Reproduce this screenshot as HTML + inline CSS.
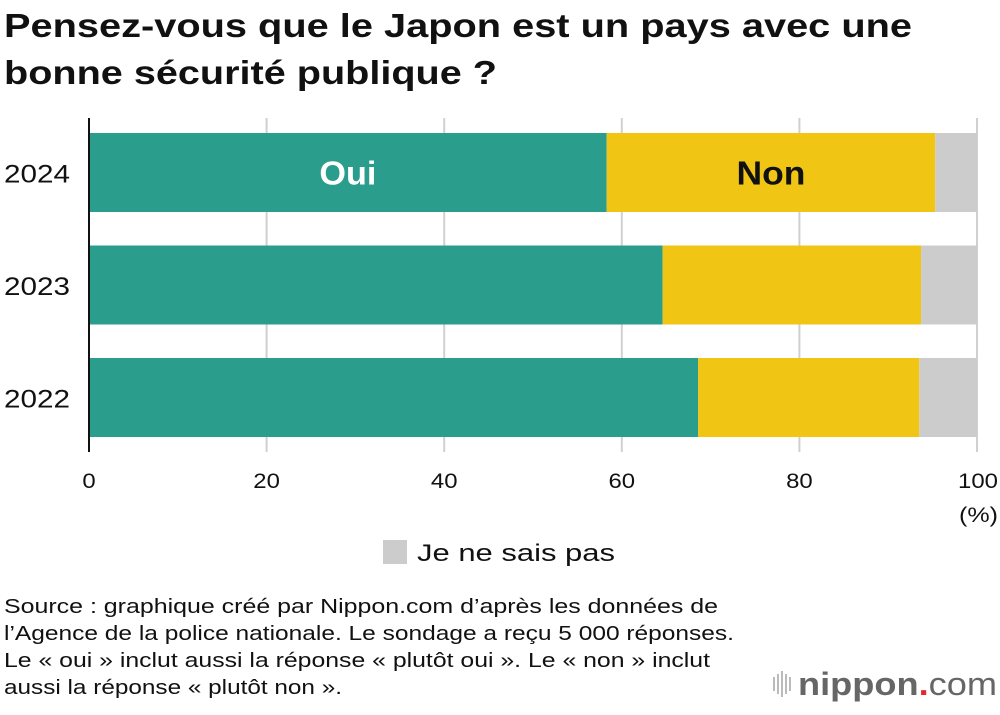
<!DOCTYPE html>
<html><head><meta charset="utf-8"><style>
body{margin:0;width:1000px;height:710px;background:#fff;font-family:"Liberation Sans",sans-serif;overflow:hidden}
</style></head><body>
<svg width="1000" height="710" xmlns="http://www.w3.org/2000/svg">
<text x="4" y="37" font-size="33" font-weight="bold" fill="#111" textLength="908" lengthAdjust="spacingAndGlyphs">Pensez-vous que le Japon est un pays avec une</text>
<text x="4" y="84" font-size="33" font-weight="bold" fill="#111" textLength="493" lengthAdjust="spacingAndGlyphs">bonne sécurité publique ?</text>
<g id="grid"></g>
<g id="bars"></g>
<line x1="89" y1="118" x2="89" y2="452" stroke="#111" stroke-width="2"/>
<g id="ticks"></g>
<text x="959" y="522" font-size="21" fill="#111" textLength="39" lengthAdjust="spacingAndGlyphs">(%)</text>
<rect x="383" y="540" width="24" height="24" fill="#cccccc"/>
<text x="417" y="561" font-size="24" fill="#111" textLength="198" lengthAdjust="spacingAndGlyphs">Je ne sais pas</text>
<g font-size="20" fill="#111">
<text x="4" y="613" textLength="714" lengthAdjust="spacingAndGlyphs">Source : graphique créé par Nippon.com d’après les données de</text>
<text x="4" y="640" textLength="730" lengthAdjust="spacingAndGlyphs">l’Agence de la police nationale. Le sondage a reçu 5 000 réponses.</text>
<text x="4" y="667" textLength="706" lengthAdjust="spacingAndGlyphs">Le « oui » inclut aussi la réponse « plutôt oui ». Le « non » inclut</text>
<text x="4" y="694" textLength="338" lengthAdjust="spacingAndGlyphs">aussi la réponse « plutôt non ».</text>
</g>
<g>
<g fill="#bbb"><rect x="773" y="677" width="2" height="14"/><rect x="777" y="674" width="2" height="20"/><rect x="781" y="671" width="2" height="26"/><rect x="785" y="674" width="2" height="20"/><rect x="789" y="677" width="2" height="14"/></g>
<text x="798" y="695" font-size="32" fill="#666" font-weight="bold" textLength="199" lengthAdjust="spacingAndGlyphs">nippon<tspan fill="#e8262a">.</tspan><tspan font-weight="normal">com</tspan></text>
</g>
</svg>
<script>
const categories=["2024","2023","2022"];
const oui=[58.3,64.6,68.6];
const non=[37.0,29.1,24.9];
const dontKnow=[4.7,6.3,6.5];
const ticks=[0,20,40,60,80,100];
const NS="http://www.w3.org/2000/svg";
const x=v=>89+v*8.88;
const yTop=i=>133+i*112.5, bh=79;
function mk(tag,attrs,parent){const e=document.createElementNS(NS,tag);for(const k in attrs)e.setAttribute(k,attrs[k]);parent.appendChild(e);return e;}
const grid=document.getElementById('grid'),bars=document.getElementById('bars'),tk=document.getElementById('ticks');
ticks.forEach(t=>{
 if(t>0){const l=mk('line',{x1:x(t),x2:x(t),y1:118,y2:452,stroke:'#d0d0d0','stroke-width':2},grid);
 
 }
 const s=String(t);
 const tx=mk('text',{x:t===100?978:x(t),y:488,'font-size':21,'text-anchor':'middle',fill:'#111',textLength:s.length*13.3,lengthAdjust:'spacingAndGlyphs'},tk);tx.textContent=s;
 
 
});
categories.forEach((c,i)=>{
 const y=yTop(i);
 const lab=mk('text',{x:4,y:y+bh/2+10,'font-size':25,fill:'#111',textLength:66,lengthAdjust:'spacingAndGlyphs'},bars);lab.textContent=c;
 
 
 const segs=[[0,oui[i],'#2a9d8d','oui'],[oui[i],oui[i]+non[i],'#f0c513','non'],[oui[i]+non[i],oui[i]+non[i]+dontKnow[i],'#cccccc','dont-know']];
 segs.forEach(s=>{
  const r=mk('rect',{x:x(s[0]),y:y,width:x(s[1])-x(s[0]),height:bh,fill:s[2]},bars);
  
  
 });
 if(i===0){
  const t1=mk('text',{x:(x(0)+x(oui[i]))/2,y:y+bh/2+12,'font-size':33,'font-weight':'bold','text-anchor':'middle',fill:'#fff',textLength:57,lengthAdjust:'spacingAndGlyphs'},bars);t1.textContent='Oui';
  
  
  const t2=mk('text',{x:(x(oui[i])+x(oui[i]+non[i]))/2,y:y+bh/2+12,'font-size':33,'font-weight':'bold','text-anchor':'middle',fill:'#111',textLength:69,lengthAdjust:'spacingAndGlyphs'},bars);t2.textContent='Non';
  
  
 }
});
</script>
</body></html>
